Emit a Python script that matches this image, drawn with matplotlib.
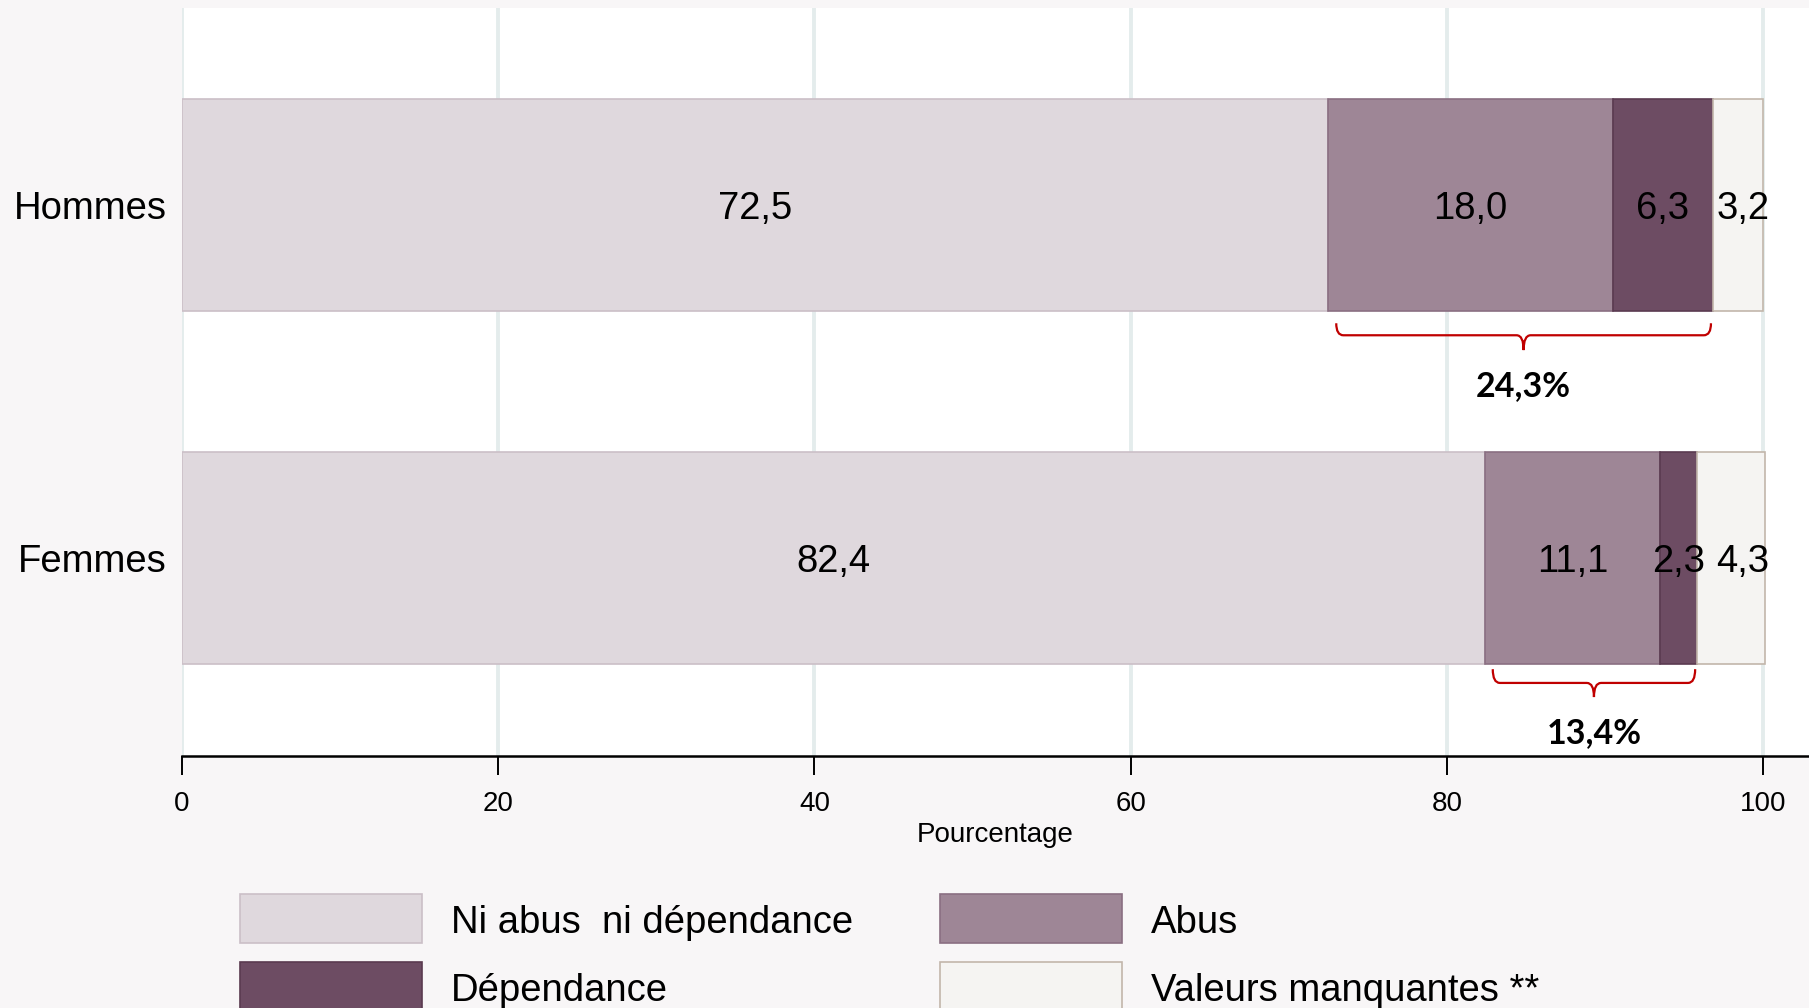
import matplotlib
matplotlib.use("Agg")
import matplotlib.pyplot as plt
from matplotlib.patches import Rectangle
from matplotlib.path import Path
from matplotlib.patches import PathPatch

# data
GROUPS = ["Hommes", "Femmes"]
CATEGORIES = ["Ni abus  ni dépendance", "Abus", "Dépendance", "Valeurs manquantes **"]
NI_ABUS = [72.5, 82.4]
ABUS = [18.0, 11.1]
DEPENDANCE = [6.3, 2.3]
MANQUANTES = [3.2, 4.3]
XTICKS = [0, 20, 40, 60, 80, 100]

COLORS = ["#dfd8dd", "#9e8696", "#6d4c63", "#f5f4f2"]
EDGES = ["#cbbfc7", "#8a6f82", "#5a3a50", "#c2b6ab"]
BG = "#f8f6f7"
FONT = "Liberation Sans"

plt.rcParams.update({"font.family": FONT})


def fmt(v):
    return f"{v:.1f}".replace(".", ",")


def brace(ax, x0, x1, ytop, ymid, ytip, color="#c00000"):
    xc = (x0 + x1) / 2
    d = 0.45
    verts = [(x0, ytop), (x0, ymid), (x0 + d, ymid),
             (xc - d, ymid), (xc, ymid), (xc, ytip),
             (xc, ytip), (xc, ymid), (xc + d, ymid),
             (x1 - d, ymid), (x1, ymid), (x1, ytop)]
    codes = [Path.MOVETO, Path.CURVE3, Path.CURVE3,
             Path.LINETO, Path.CURVE3, Path.CURVE3,
             Path.MOVETO, Path.CURVE3, Path.CURVE3,
             Path.LINETO, Path.CURVE3, Path.CURVE3]
    ax.add_patch(PathPatch(Path(verts, codes), fill=False, edgecolor=color,
                           lw=1.6, zorder=4, clip_on=False))


fig = plt.figure(figsize=(18.09, 10.08), dpi=100, facecolor=BG)
ax = fig.add_axes([0.1006, 0.25, 0.8994, 0.742])
ax.set_facecolor("white")

ypos = [1, 0]
series = [NI_ABUS, ABUS, DEPENDANCE, MANQUANTES]
left = [0.0, 0.0]
for k, (vals, c, e) in enumerate(zip(series, COLORS, EDGES)):
    ax.barh(ypos, vals, left=left, height=0.6, color=c, edgecolor=e, lw=1.2, zorder=3)
    for y, l, v in zip(ypos, left, vals):
        xt = l + v / 2
        if k == len(series) - 1:
            xt = max(xt, 98.7)  # keep last label clear of its neighbour
        ax.text(xt, y, fmt(v), ha="center", va="center_baseline", fontsize=27.5,
                color="black", zorder=5)
    left = [l + v for l, v in zip(left, vals)]

# braces: abus + dépendance
brace_y = {1: (0.664, 0.630, 0.588, 0.485), 0: (-0.316, -0.355, -0.395, -0.497)}
for i, y in enumerate(ypos):
    x0 = NI_ABUS[i] + 0.5
    x1 = NI_ABUS[i] + ABUS[i] + DEPENDANCE[i] - 0.1
    yt, ym, yp, yl = brace_y[y]
    brace(ax, x0, x1, yt, ym, yp)
    ax.text((x0 + x1) / 2, yl, fmt(ABUS[i] + DEPENDANCE[i]) + "%", ha="center",
            va="center", fontsize=24.5, fontweight="bold", family="Lato", zorder=5)

ax.set_xlim(0, 102.9)
ax.set_ylim(-0.562, 1.557)
ax.set_xticks(XTICKS)
ax.set_xticklabels([str(t) for t in XTICKS], fontsize=20)
ax.set_yticks(ypos)
ax.set_yticklabels(GROUPS, fontsize=27.5)
ax.tick_params(axis="y", length=0, pad=11)
ax.tick_params(axis="x", length=14, width=1.4, direction="out", pad=11.5)
ax.set_xlabel("Pourcentage", fontsize=20, labelpad=3)
ax.grid(axis="x", color="#e4ecec", lw=2.8, zorder=0)
ax.set_axisbelow(True)
for s in ["top", "right", "left"]:
    ax.spines[s].set_visible(False)
ax.spines["bottom"].set_linewidth(1.8)

# legend (manual)
W, H = 1809, 1008
leg = [(240, 894, 0), (940, 894, 1), (240, 962, 2), (940, 962, 3)]
for x, y, k in leg:
    fig.patches.append(Rectangle((x / W, 1 - (y + 49) / H), 182 / W, 49 / H,
                                 transform=fig.transFigure, facecolor=COLORS[k],
                                 edgecolor=EDGES[k], lw=1.2))
    fig.text((x + 211) / W, 1 - (y + 25) / H, CATEGORIES[k], fontsize=27.5,
             ha="left", va="center_baseline")

fig.savefig("out.png", dpi=100, facecolor=BG)
